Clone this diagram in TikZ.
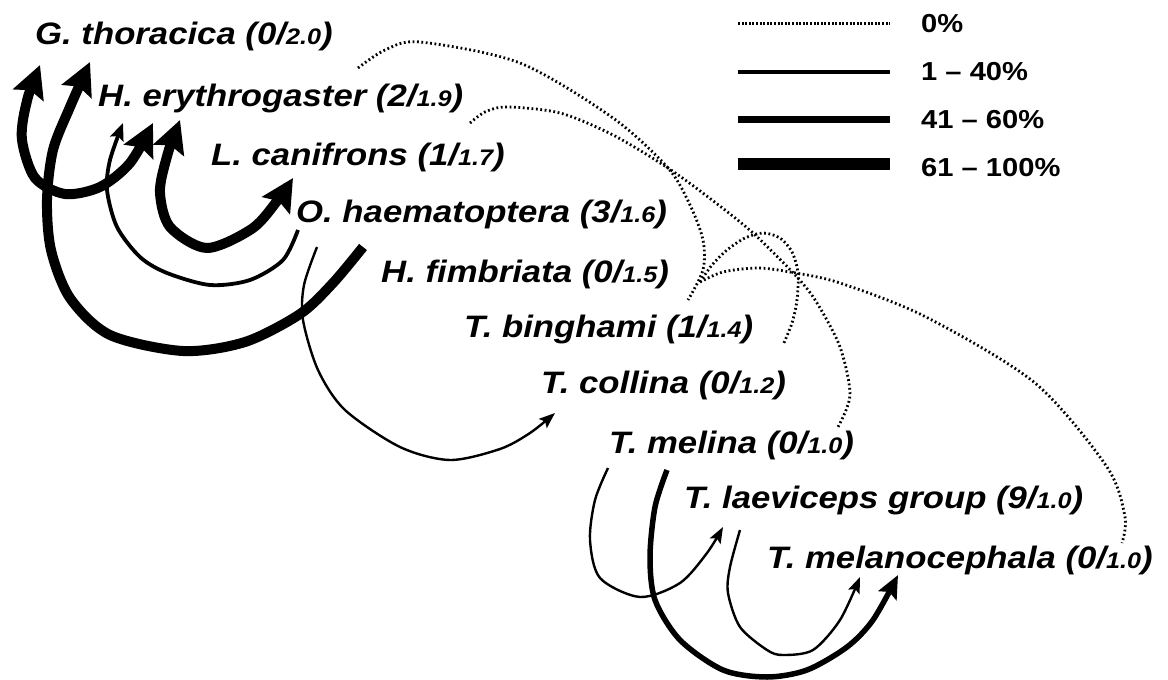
\documentclass[tikz,border=0pt]{standalone}
\usepackage{fontspec}
\setmainfont{Liberation Sans}[FakeStretch=1.12]
\usetikzlibrary{arrows.meta}
\newcommand\taxlab[3]{#1 (#2/{\fontsize{22.5}{24}\selectfont #3})}
\tikzset{
  lab/.style={anchor=base west, inner sep=0pt, font=\fontsize{31}{36}\selectfont\bfseries\itshape},
  leg/.style={anchor=base west, inner sep=0pt, font=\fontsize{26}{30}\selectfont\bfseries},
  zero/.style={line width=2.8pt, dash pattern=on 1.8pt off 2.6pt},
  legdot/.style={line width=3pt, dash pattern=on 2pt off 1.6pt},
  heavy/.style={line width=10pt, line join=round},
  medium/.style={line width=5.5pt, line join=round},
  light/.style={line width=3.8pt, line join=round},
  thin/.style={line width=2.4pt, line join=round},
  bigtip/.style={-{Stealth[length=32pt,width=32pt,inset=5pt]}},
  bigtips/.style={{Stealth[length=32pt,width=32pt,inset=5pt]}-{Stealth[length=32pt,width=32pt,inset=5pt]}},
  medtip/.style={-{Stealth[length=23pt,width=20pt,inset=4pt]}},
  lighttip/.style={-{Stealth[length=17pt,width=14pt,inset=3pt]}},
  thintip/.style={-{Stealth[length=16pt,width=12pt,inset=3pt]}},
}
\begin{document}
\begin{tikzpicture}[x=1pt,y=-1pt]
\useasboundingbox (0,0) rectangle (1168,680);
% species labels
\node[lab] (gt) at (35,45) {\taxlab{G. thoracica}{0}{2.0}};
\node[lab] (he) at (98,106) {\taxlab{H. erythrogaster}{2}{1.9}};
\node[lab] (lc) at (211,165) {\taxlab{L. canifrons}{1}{1.7}};
\node[lab] (oh) at (296,222) {\taxlab{O. haematoptera}{3}{1.6}};
\node[lab] (hf) at (381,282) {\taxlab{H. fimbriata}{0}{1.5}};
\node[lab] (tb) at (464,337) {\taxlab{T. binghami}{1}{1.4}};
\node[lab] (tc) at (541,393) {\taxlab{T. collina}{0}{1.2}};
\node[lab] (tm) at (609,453) {\taxlab{T. melina}{0}{1.0}};
\node[lab] (tl) at (684,508) {\taxlab{T. laeviceps group}{9}{1.0}};
\node[lab] (tn) at (767,568) {\taxlab{T. melanocephala}{0}{1.0}};
% legend
\coordinate (k0a) at (738,23);  \coordinate (k0b) at (890,23);
\coordinate (k1a) at (738,72);  \coordinate (k1b) at (890,72);
\coordinate (k2a) at (738,119); \coordinate (k2b) at (890,119);
\coordinate (k3a) at (738,164); \coordinate (k3b) at (890,164);
\draw[legdot] (k0a) -- (k0b);
\draw[line width=4.2pt] (k1a) -- (k1b);
\draw[line width=7pt] (k2a) -- (k2b);
\draw[line width=12pt] (k3a) -- (k3b);
\node[leg] (t0) at (921,32) {0\%};
\node[leg] (t1) at (921,80) {1 – 40\%};
\node[leg] (t2) at (921,128) {41 – 60\%};
\node[leg] (t3) at (921,176) {61 – 100\%};
% arrow end points
\coordinate (a1) at (40,65);   \coordinate (a2) at (153,123);
\coordinate (b1) at (363,247); \coordinate (b2) at (90,62);
\coordinate (c1) at (298,230); \coordinate (c2) at (123,123);
\coordinate (e1) at (180,120); \coordinate (e2) at (293,178);
\coordinate (f1) at (317,247); \coordinate (f2) at (555,413);
\coordinate (g1) at (608,468); \coordinate (g2) at (723,527);
\coordinate (h1) at (667,470); \coordinate (h2) at (898,575);
\coordinate (i1) at (740,530); \coordinate (i2) at (860,577);
% solid arrows
\draw[heavy,bigtips] plot[smooth] coordinates {(a1) (26,105) (22,140) (35,178) (65,194) (100,187) (130,163) (a2)};
\draw[heavy,bigtip] plot[smooth] coordinates {(b1) (333,283) (300,314) (245,342) (183,351) (110,335) (70,298) (51,250) (47,200) (53,150) (70,107) (b2)};
\draw[light,lighttip] plot[smooth] coordinates {(c1) (283,260) (250,280) (210,285) (167,273) (140,257) (117,227) (107,190) (110,160) (c2)};
\draw[heavy,bigtips] plot[smooth] coordinates {(e1) (166,160) (160,193) (170,227) (207,248) (253,228) (280,197) (e2)};
\draw[thin,thintip] plot[smooth] coordinates {(f1) (304,285) (303,320) (318,370) (345,410) (400,447) (450,460) (500,449) (530,433) (f2)};
\draw[thin,thintip] plot[smooth] coordinates {(g1) (595,500) (590,540) (600,578) (640,597) (680,583) (707,553) (g2)};
\draw[medium,medtip] plot[smooth] coordinates {(h1) (655,507) (650,557) (655,600) (680,640) (723,670) (767,677) (807,670) (847,647) (873,620) (h2)};
\draw[thin,thintip] plot[smooth] coordinates {(i1) (730,567) (728,593) (740,627) (767,650) (783,655) (813,650) (840,620) (i2)};
% dotted (0%) links
\coordinate (d1s) at (358,68);  \coordinate (d1e) at (688,300);
\coordinate (d2s) at (470,123); \coordinate (d2e) at (838,427);
\coordinate (d3s) at (700,282); \coordinate (d3e) at (783,345);
\coordinate (d4s) at (700,282); \coordinate (d4e) at (1122,543);
\draw[zero] plot[smooth] coordinates {(d1s) (385,50) (420,42) (520,63) (613,118) (668,168) (690,205) (703,240) (703,270) (d1e)};
\draw[zero] plot[smooth] coordinates {(d2s) (485,112) (507,107) (560,113) (613,135) (668,168) (712,200) (753,233) (797,277) (817,303) (840,347) (850,395) (d2e)};
\draw[zero] plot[smooth] coordinates {(d3s) (712,265) (727,250) (745,238) (763,233) (780,238) (792,252) (798,273) (797,300) (792,323) (d3e)};
\draw[zero] plot[smooth] coordinates {(d4s) (723,272) (757,268) (790,272) (840,283) (926,317) (1035,383) (1107,467) (1125,517) (d4e)};
\end{tikzpicture}
\end{document}
